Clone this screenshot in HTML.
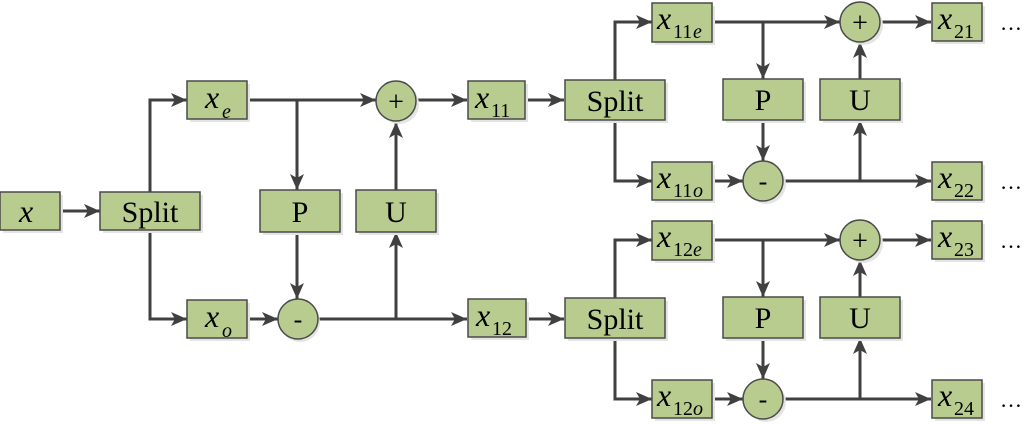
<!DOCTYPE html>
<html><head><meta charset="utf-8"><style>
html,body{margin:0;padding:0;background:#fff;width:1024px;height:424px;overflow:hidden}
svg{display:block}
.b{fill:#b7cc8e;stroke:#4a4a4a;stroke-width:1.5}
.sh{fill:#e4e4e4}
.l{stroke:#404040;stroke-width:3;fill:none}
.t{font-family:"Liberation Serif",serif;fill:#000}
.x{font-style:italic;font-size:32px}
.s{font-size:20px}
.se{font-style:italic;font-size:20px}
</style></head><body>
<svg width="1024" height="424" viewBox="0 0 1024 424" xmlns="http://www.w3.org/2000/svg">
<defs>
<marker id="a" viewBox="0 0 16 14" refX="16" refY="7" markerWidth="16" markerHeight="14" markerUnits="userSpaceOnUse" orient="auto">
<path d="M0,0 L16,7 L0,14 L4,7 Z" fill="#404040"/></marker>
</defs>

<!-- connectors left stage -->
<path class="l" d="M60,211 H100" marker-end="url(#a)"/>
<path class="l" d="M150,192 V100 H187" marker-end="url(#a)"/>
<path class="l" d="M150,230 V319 H187" marker-end="url(#a)"/>
<path class="l" d="M247,100 H376" marker-end="url(#a)"/>
<path class="l" d="M297,100 V190" marker-end="url(#a)"/>
<path class="l" d="M297,232 V299" marker-end="url(#a)"/>
<path class="l" d="M247,319 H278" marker-end="url(#a)"/>
<path class="l" d="M318,319 H467" marker-end="url(#a)"/>
<path class="l" d="M396,319 V232" marker-end="url(#a)"/>
<path class="l" d="M396,190 V122" marker-end="url(#a)"/>
<path class="l" d="M416,100 H467" marker-end="url(#a)"/>
<path class="l" d="M525,100 H564" marker-end="url(#a)"/>
<path class="l" d="M527,319 H564" marker-end="url(#a)"/>

<!-- boxes left stage -->
<g>
<rect class="sh" x="3" y="195" width="60" height="38"/><rect class="b" x="0" y="192" width="60" height="38"/>
<text class="t x" x="19" y="222">x</text>
<rect class="sh" x="103" y="195" width="100" height="38"/><rect class="b" x="100" y="192" width="100" height="38"/>
<text class="t" x="150" y="222" font-size="30" text-anchor="middle">Split</text>
<rect class="sh" x="190" y="84" width="60" height="38"/><rect class="b" x="187" y="81" width="60" height="38"/>
<text class="t x" x="205" y="108">x</text><text class="t se" x="222" y="118">e</text>
<rect class="sh" x="190" y="303" width="60" height="38"/><rect class="b" x="187" y="300" width="60" height="38"/>
<text class="t x" x="205" y="327">x</text><text class="t se" x="222" y="337">o</text>
<rect class="sh" x="263" y="193" width="80" height="42"/><rect class="b" x="260" y="190" width="80" height="42"/>
<text class="t" x="300" y="222" font-size="30" text-anchor="middle">P</text>
<rect class="sh" x="359" y="193" width="80" height="42"/><rect class="b" x="356" y="190" width="80" height="42"/>
<text class="t" x="396" y="222" font-size="30" text-anchor="middle">U</text>
<circle class="sh" cx="300" cy="322" r="20"/><circle class="b" cx="298" cy="319" r="20"/>
<text class="t" x="298" y="328" font-size="26" text-anchor="middle">-</text>
<circle class="sh" cx="399" cy="104" r="20"/><circle class="b" cx="396" cy="101" r="20"/>
<text class="t" x="396" y="111" font-size="28" text-anchor="middle">+</text>
<rect class="sh" x="471" y="84" width="57" height="38"/><rect class="b" x="468" y="81" width="57" height="38"/>
<text class="t x" x="475" y="108">x</text><text class="t s" x="491" y="117">11</text>
<rect class="sh" x="471" y="302" width="58" height="38"/><rect class="b" x="468" y="299" width="58" height="38"/>
<text class="t x" x="476" y="326">x</text><text class="t s" x="492" y="335">12</text>
</g>

<!-- right stages -->
<g id="st">
<path class="l" d="M615,80 V22 H652" marker-end="url(#a)"/>
<path class="l" d="M615,120 V181 H652" marker-end="url(#a)"/>
<path class="l" d="M712,22 H840" marker-end="url(#a)"/>
<path class="l" d="M763,22 V79" marker-end="url(#a)"/>
<path class="l" d="M763,120 V161" marker-end="url(#a)"/>
<path class="l" d="M712,181 H743" marker-end="url(#a)"/>
<path class="l" d="M783,181 H931" marker-end="url(#a)"/>
<path class="l" d="M860,181 V120" marker-end="url(#a)"/>
<path class="l" d="M860,79 V42" marker-end="url(#a)"/>
<path class="l" d="M880,22 H931" marker-end="url(#a)"/>
<rect class="sh" x="568" y="83" width="100" height="40"/><rect class="b" x="565" y="80" width="100" height="40"/>
<text class="t" x="615" y="111" font-size="30" text-anchor="middle">Split</text>
<rect class="sh" x="655" y="6" width="60" height="39"/><rect class="b" x="652" y="3" width="60" height="39"/>
<rect class="sh" x="655" y="165" width="60" height="38"/><rect class="b" x="652" y="162" width="60" height="38"/>
<rect class="sh" x="726" y="82" width="80" height="41"/><rect class="b" x="723" y="79" width="80" height="41"/>
<text class="t" x="763" y="110" font-size="30" text-anchor="middle">P</text>
<rect class="sh" x="823" y="82" width="80" height="41"/><rect class="b" x="820" y="79" width="80" height="41"/>
<text class="t" x="860" y="110" font-size="30" text-anchor="middle">U</text>
<circle class="sh" cx="766" cy="184" r="20"/><circle class="b" cx="763" cy="181" r="20"/>
<text class="t" x="763" y="190" font-size="26" text-anchor="middle">-</text>
<circle class="sh" cx="863" cy="25" r="20"/><circle class="b" cx="860" cy="22" r="20"/>
<text class="t" x="860" y="32" font-size="28" text-anchor="middle">+</text>
<rect class="sh" x="935" y="6" width="50" height="38"/><rect class="b" x="932" y="3" width="50" height="38"/>
<rect class="sh" x="935" y="165" width="50" height="38"/><rect class="b" x="932" y="162" width="50" height="38"/>
<text class="t" x="1000" y="30" font-size="22">…</text>
<text class="t" x="1000" y="189" font-size="22">…</text>
</g>
<use href="#st" transform="translate(0,218)"/>

<!-- stage labels -->
<text class="t x" x="657" y="29">x</text><text class="t s" x="673" y="38">11</text><text class="t se" x="693" y="38">e</text>
<text class="t x" x="657" y="188">x</text><text class="t s" x="673" y="197">11</text><text class="t se" x="693" y="197">o</text>
<text class="t x" x="938" y="29">x</text><text class="t s" x="954" y="38">21</text>
<text class="t x" x="938" y="188">x</text><text class="t s" x="954" y="197">22</text>
<text class="t x" x="657" y="247">x</text><text class="t s" x="673" y="256">12</text><text class="t se" x="693" y="256">e</text>
<text class="t x" x="657" y="406">x</text><text class="t s" x="673" y="415">12</text><text class="t se" x="693" y="415">o</text>
<text class="t x" x="938" y="247">x</text><text class="t s" x="954" y="256">23</text>
<text class="t x" x="938" y="406">x</text><text class="t s" x="954" y="415">24</text>
</svg>
</body></html>
